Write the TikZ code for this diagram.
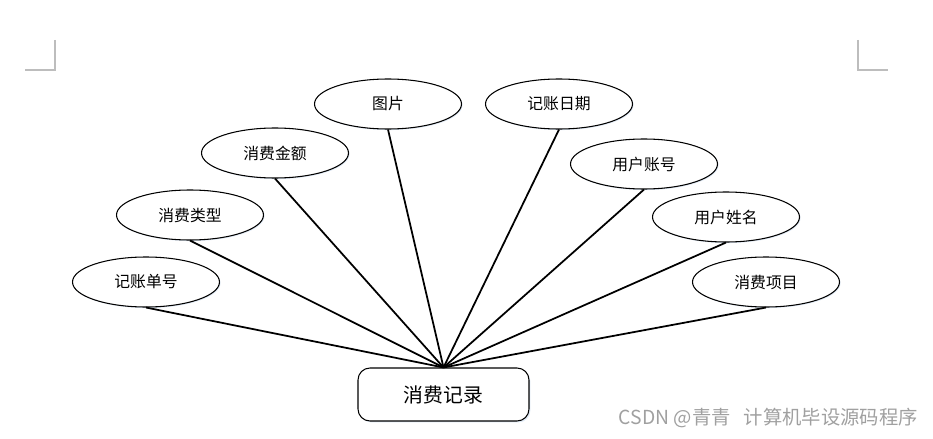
\documentclass[tikz,border=0pt]{standalone}
\usepackage{fontspec}
\usepackage{xcolor}
\usepackage{tikz}
\usetikzlibrary{shapes.geometric,shadows}
\newfontfamily\cjk{Noto Sans CJK SC}
\definecolor{MarkGray}{HTML}{BDBDBD}
\definecolor{MarkText}{HTML}{A0A0A0}
\definecolor{HaloBlue}{HTML}{C8D8EC}

\tikzset{
  attr/.style={ellipse, draw=black, line width=0.6pt, fill=white,
               minimum width=147\pxu, minimum height=50\pxu, inner sep=0pt,
               font=\cjk\fontsize{9}{11}\selectfont,
               drop shadow={shadow xshift=0.6pt, shadow yshift=-0.6pt,
                            fill=HaloBlue, opacity=0.6}},
  entity/.style={rectangle, rounded corners=12\pxu, draw=black, line width=0.6pt,
                 fill=white, minimum width=171\pxu, minimum height=53\pxu,
                 font=\cjk\fontsize{11.3}{13}\selectfont,
                 drop shadow={shadow xshift=0.8pt, shadow yshift=-0.8pt,
                              fill=HaloBlue, opacity=0.6}},
  link/.style={line width=1pt, black},
  pagemark/.style={line width=0.6pt, MarkGray}
}
\newlength{\pxu}
\setlength{\pxu}{0.02cm}

\begin{document}
\begin{tikzpicture}[x=0.02cm, y=-0.02cm]
  \useasboundingbox (0,0) rectangle (933,439);

  % page corner marks
  \coordinate (lmA) at (55,40);
  \coordinate (lmB) at (55,70);
  \coordinate (lmC) at (25,70);
  \coordinate (rmA) at (858,40);
  \coordinate (rmB) at (858,70);
  \coordinate (rmC) at (888,70);
  \draw[pagemark] (lmA) -- (lmB) -- (lmC);
  \draw[pagemark] (rmA) -- (rmB) -- (rmC);

  % entity
  \node[entity] (record) at (443.5,394.5) {消费记录};

  % attributes
  \node[attr] (billno)  at (146,282) {记账单号};
  \node[attr] (ctype)   at (190,215) {消费类型};
  \node[attr] (amount)  at (275,153) {消费金额};
  \node[attr] (picture) at (388,104) {图片};
  \node[attr] (bdate)   at (559,104) {记账日期};
  \node[attr] (account) at (644,164) {用户账号};
  \node[attr] (uname)   at (726,217) {用户姓名};
  \node[attr] (item)    at (766,282) {消费项目};

  % links
  \foreach \a in {billno,ctype,amount,picture,bdate,account,uname,item}
    \draw[link] (\a.south) -- (record.north);

  % watermark
  \node[anchor=east, text=MarkText, font=\cjk\fontsize{11}{13}\selectfont,
        inner sep=0pt] (mark) at (918,418) {CSDN @青青\ \ \ 计算机毕设源码程序};
\end{tikzpicture}
\end{document}
